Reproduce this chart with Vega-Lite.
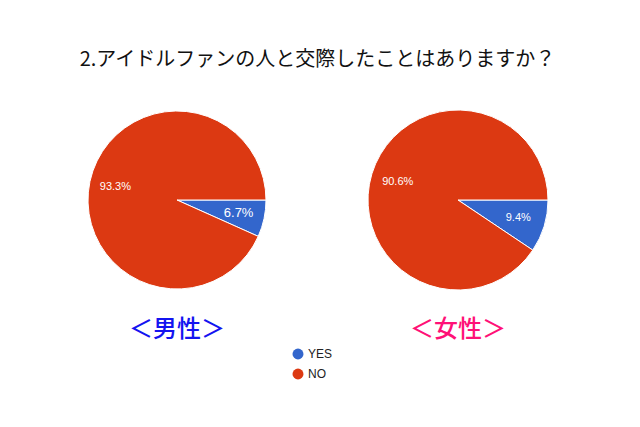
{
  "$schema": "https://vega.github.io/schema/vega-lite/v6.json",
  "padding": {"left": 77, "top": 50, "right": 5, "bottom": 5},
  "background": "white",
  "title": {
    "text": "2.アイドルファンの人と交際したことはありますか？",
    "font": "Noto Sans CJK JP",
    "fontSize": 20,
    "fontWeight": "normal",
    "color": "#111111",
    "anchor": "middle",
    "offset": 30
  },
  "datasets": {
    "survey": [
      {"sex": "男性", "answer": "YES", "pct": 6.7},
      {"sex": "男性", "answer": "NO", "pct": 93.3},
      {"sex": "女性", "answer": "YES", "pct": 9.4},
      {"sex": "女性", "answer": "NO", "pct": 90.6}
    ]
  },
  "config": {
    "view": {"stroke": null},
    "concat": {"spacing": 81}
  },
  "hconcat": [
    {
      "width": 200,
      "height": 200,
      "title": {"text": "＜男性＞", "orient": "bottom", "color": "#1414f0", "fontSize": 24, "font": "Noto Sans CJK JP", "fontWeight": 500, "offset": 18},
      "data": {"name": "survey"},
      "transform": [
        {"filter": "datum.sex == '男性'"},
        {"calculate": "format(datum.pct, '.1f') + '%'", "as": "lab"}
      ],
      "encoding": {
        "theta": {"field": "pct", "type": "quantitative", "stack": true, "scale": {"range": [1.5708, 7.854]}},
        "order": {"field": "answer", "sort": "descending"}
      },
      "layer": [
        {
          "mark": {"type": "arc", "outerRadius": 89, "stroke": "white", "strokeWidth": 1},
          "encoding": {
            "color": {
              "field": "answer", "type": "nominal",
              "scale": {"domain": ["YES", "NO"], "range": ["#3366cc", "#dc3912"]},
              "legend": {
                "orient": "none", "legendX": 215, "legendY": 248, "title": null,
                "symbolType": "circle", "symbolSize": 120, "symbolStrokeWidth": 0,
                "labelFont": "Liberation Sans", "labelFontSize": 12, "labelColor": "#222222",
                "rowPadding": 8
              }
            }
          }
        },
        {
          "mark": {"type": "text", "radius": 63, "font": "Liberation Sans", "color": "white"},
          "encoding": {
            "text": {"field": "lab", "type": "nominal"},
            "size": {"condition": {"test": "datum.pct < 8", "value": 13}, "value": 11},
            "detail": {"field": "answer"}
          }
        }
      ]
    },
    {
      "width": 200,
      "height": 200,
      "title": {"text": "＜女性＞", "orient": "bottom", "color": "#ff1177", "fontSize": 24, "font": "Noto Sans CJK JP", "fontWeight": 500, "offset": 18},
      "data": {"name": "survey"},
      "transform": [
        {"filter": "datum.sex == '女性'"},
        {"calculate": "format(datum.pct, '.1f') + '%'", "as": "lab"}
      ],
      "encoding": {
        "theta": {"field": "pct", "type": "quantitative", "stack": true, "scale": {"range": [1.5708, 7.854]}},
        "order": {"field": "answer", "sort": "descending"}
      },
      "layer": [
        {
          "mark": {"type": "arc", "outerRadius": 90, "stroke": "white", "strokeWidth": 1},
          "encoding": {
            "color": {
              "field": "answer", "type": "nominal",
              "scale": {"domain": ["YES", "NO"], "range": ["#3366cc", "#dc3912"]}
            }
          }
        },
        {
          "mark": {"type": "text", "radius": 63, "font": "Liberation Sans", "color": "white", "fontSize": 11},
          "encoding": {
            "text": {"field": "lab", "type": "nominal"}
          }
        }
      ]
    }
  ]
}
